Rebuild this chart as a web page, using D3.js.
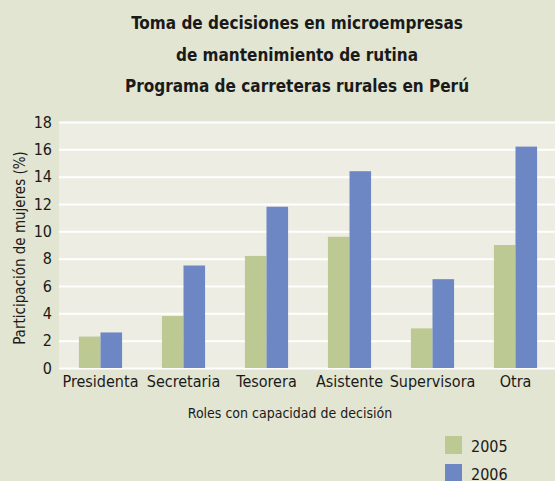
<!DOCTYPE html>
<html>
<head>
<meta charset="utf-8">
<script src="https://cdn.jsdelivr.net/npm/d3@7"></script>
<style>
  body { margin: 0; background: #e2e5d1; }
  svg { display: block; }
  text { font-family: "Liberation Sans Narrow", "DejaVu Sans Condensed", sans-serif; fill: #1a1a1a; }
</style>
</head>
<body>
<div id="chart"></div>
<script>
// data
var categories = ["Presidenta", "Secretaria", "Tesorera", "Asistente", "Supervisora", "Otra"];
var years = ["2005", "2006"];
var values2005 = [2.3, 3.8, 8.2, 9.6, 2.9, 9.0];
var values2006 = [2.6, 7.5, 11.8, 14.4, 6.5, 16.2];
var yTicks = [0, 2, 4, 6, 8, 10, 12, 14, 16, 18];
var titleLines = ["Toma de decisiones en microempresas", "de mantenimiento de rutina", "Programa de carreteras rurales en Perú"];

var w = 555;
var h = 481;
var padding = { top: 122, right: 0, bottom: 113, left: 59 };
var colors = { "2005": "#bdc993", "2006": "#6d87c5" };

var svg = d3.select("#chart").append("svg").attr("width", w).attr("height", h);
svg.append("rect").attr("width", w).attr("height", h).attr("fill", "#e2e5d1");

var xScale = d3.scaleBand().domain(categories).range([padding.left, w - padding.right + 2]).paddingInner(0.48).paddingOuter(0.24);
var xSub = d3.scaleBand().domain(years).range([0, xScale.bandwidth()]);
var yScale = d3.scaleLinear().domain([0, 18]).range([h - padding.bottom, padding.top]);

// plot background
svg.append("rect")
  .attr("x", padding.left).attr("y", padding.top)
  .attr("width", w - padding.left - padding.right)
  .attr("height", h - padding.top - padding.bottom)
  .attr("fill", "#edede3");

// grid
var yAxis = d3.axisLeft(yScale).tickValues(yTicks).tickSize(-(w - padding.left)).tickPadding(7);
var gy = svg.append("g").attr("transform", "translate(" + padding.left + ",0)").call(yAxis);
gy.select(".domain").remove();
gy.selectAll(".tick line").attr("stroke", "#ffffff").attr("stroke-width", 2);
gy.selectAll(".tick text").attr("font-size", "16px").attr("fill", "#1a1a1a");

// bars
var rows = categories.map(function (c, i) { return { cat: c, vals: [values2005[i], values2006[i]] }; });
var groups = svg.selectAll("g.grp").data(rows).enter().append("g")
  .attr("class", "grp")
  .attr("transform", function (d) { return "translate(" + xScale(d.cat) + ",0)"; });
groups.selectAll("rect")
  .data(function (d) { return d.vals.map(function (v, j) { return { year: years[j], v: v }; }); })
  .enter().append("rect")
  .attr("x", function (d) { return xSub(d.year); })
  .attr("y", function (d) { return yScale(d.v); })
  .attr("width", xSub.bandwidth())
  .attr("height", function (d) { return yScale(0) - yScale(d.v); })
  .attr("fill", function (d) { return colors[d.year]; });

// x axis
var xAxis = d3.axisBottom(xScale).tickSize(0).tickPadding(8);
var gx = svg.append("g").attr("transform", "translate(0," + (h - padding.bottom) + ")").call(xAxis);
gx.select(".domain").remove();
gx.selectAll(".tick text").attr("font-size", "16px").attr("fill", "#1a1a1a");

// axis titles
svg.append("text").attr("x", 290).attr("y", 418).attr("text-anchor", "middle")
  .attr("font-size", "14px").text("Roles con capacidad de decisión");
svg.append("text").attr("transform", "translate(25,248) rotate(-90)").attr("text-anchor", "middle")
  .attr("font-size", "15px").text("Participación de mujeres (%)");

// title
svg.selectAll("text.title").data(titleLines).enter().append("text")
  .attr("class", "title")
  .attr("x", 297).attr("y", function (d, i) { return 29 + i * 31.5; })
  .attr("text-anchor", "middle").attr("font-size", "17px").attr("font-weight", "bold")
  .text(function (d) { return d; });

// legend
var legend = svg.selectAll("g.leg").data(years).enter().append("g")
  .attr("class", "leg")
  .attr("transform", function (d, i) { return "translate(445," + (436 + i * 28) + ")"; });
legend.append("rect").attr("width", 17).attr("height", 18).attr("fill", function (d) { return colors[d]; });
legend.append("text").attr("x", 26).attr("y", 16).attr("font-size", "16px").text(function (d) { return d; });
</script>
</body>
</html>
